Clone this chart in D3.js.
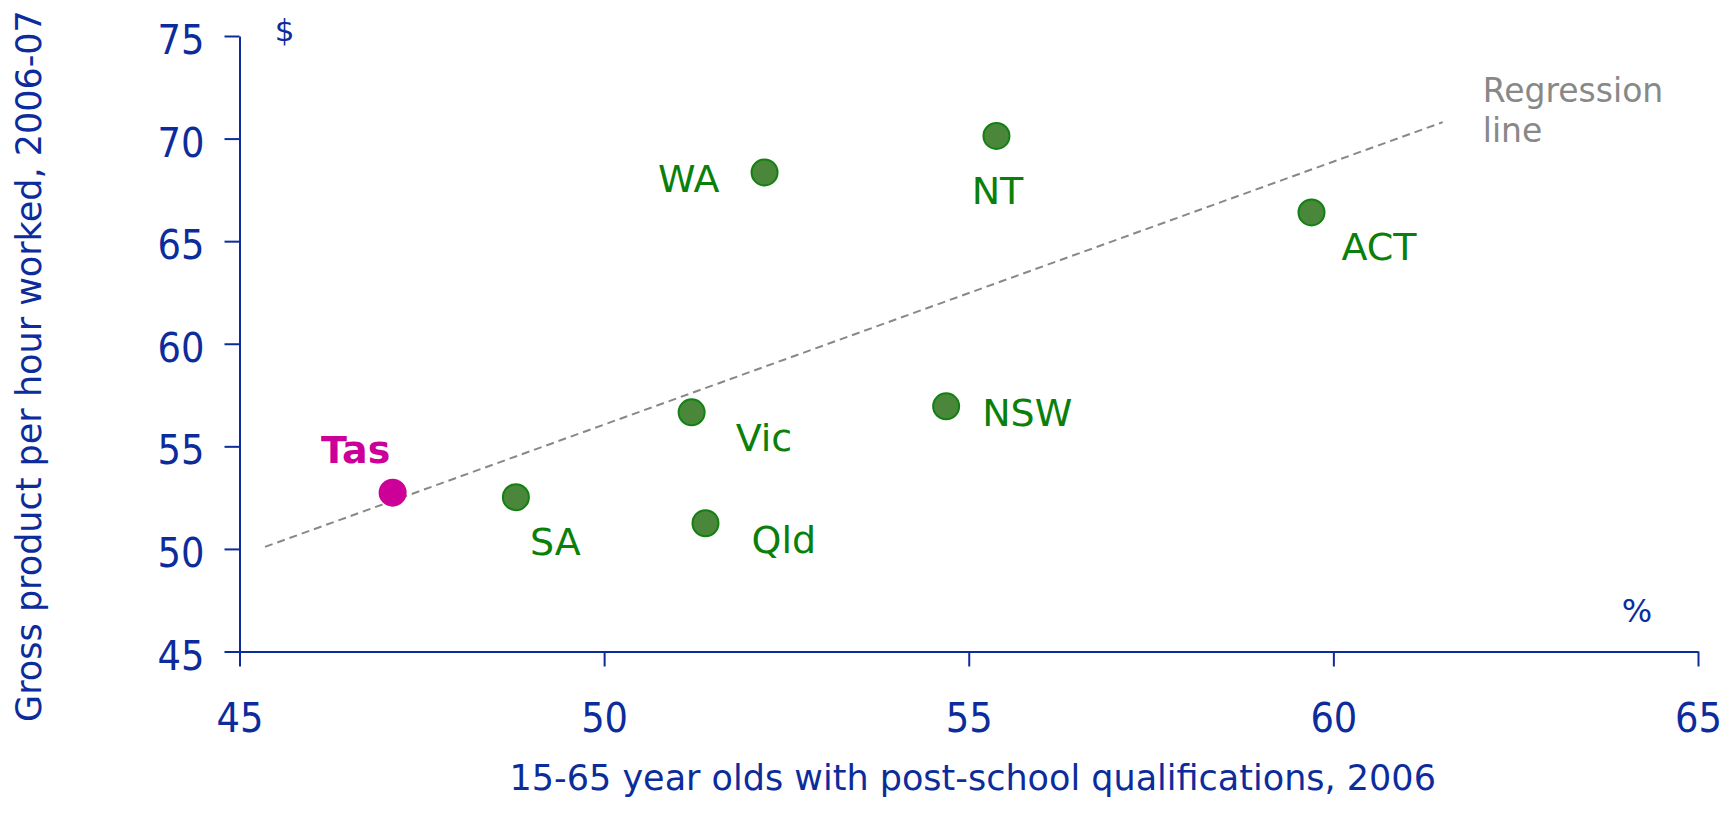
<!DOCTYPE html>
<html lang="en">
<head>
    <meta charset="UTF-8">
    <title>Labour productivity vs post-school qualifications</title>
    <script src="https://d3js.org/d3.v7.min.js"></script>
    <style>
        body { margin: 0; background: #fff; }
        svg { display: block; font-family: "DejaVu Sans", Verdana, sans-serif; }
        .axis path, .axis line { stroke: #0d2c9c; stroke-width: 2px; fill: none; }
        .axis text { fill: #0d2c9c; font-size: 41px; font-family: "DejaVu Sans Condensed", "DejaVu Sans", sans-serif; font-stretch: condensed; }
        .axis-title { fill: #0d2c9c; font-size: 35px; }
        .unit { fill: #0d2c9c; }
        .dot { fill: #4a873a; stroke: #128012; stroke-width: 2px; }
        .dot.tas { fill: #cc0099; stroke: #cc0099; }
        .lbl { fill: #0a800a; font-size: 38px; }
        .lbl.tas { fill: #cc0099; font-weight: bold; }
        .reg { stroke: #888; stroke-width: 2px; stroke-dasharray: 8,5; fill: none; }
        .reg-text { fill: #888; font-size: 33px; }
    </style>
</head>
<body>
<svg width="1728" height="824"></svg>
<script>
    // data
    var regions    = ["NSW", "Vic", "Qld", "SA", "WA", "Tas", "NT", "ACT"];
    var qualPct    = [54.69, 51.20, 51.39, 48.79, 52.20, 47.10, 55.38, 59.70];   // % with post-school quals, 2006
    var gspPerHour = [56.95, 56.66, 51.25, 52.52, 68.35, 52.74, 70.13, 66.40];   // $ per hour worked, 2006-07
    var regLineX   = [45.35, 61.50];
    var regLineY   = [50.10, 70.80];
    var xTicks = [45, 50, 55, 60, 65];
    var yTicks = [45, 50, 55, 60, 65, 70, 75];

    // label placement relative to each point (layout only)
    var labelPos = {
        NSW: {dx: 36, dy: 20, anchor: "start"},
        Vic: {dx: 44, dy: 39, anchor: "start"},
        Qld: {dx: 46, dy: 30, anchor: "start"},
        SA:  {dx: 14, dy: 58, anchor: "start"},
        WA:  {dx: -45, dy: 20, anchor: "end"},
        Tas: {dx: -37, dy: -30, anchor: "middle"},
        NT:  {dx: 1, dy: 68, anchor: "middle"},
        ACT: {dx: 30, dy: 48, anchor: "start"}
    };

    var svg = d3.select("svg");

    var x = d3.scaleLinear().domain([45, 65]).range([239.5, 1698]);
    var y = d3.scaleLinear().domain([45, 75]).range([651.5, 36]);

    // axes
    svg.append("g")
        .attr("class", "axis")
        .attr("transform", "translate(0," + y(45) + ")")
        .call(d3.axisBottom(x).tickValues(xTicks).tickSize(15).tickSizeOuter(0).tickPadding(36))
        .call(function(g) { g.selectAll("text").attr("dy", "0.71em"); });

    svg.append("g")
        .attr("class", "axis")
        .attr("transform", "translate(" + x(45) + ",0)")
        .call(d3.axisLeft(y).tickValues(yTicks).tickSize(15).tickSizeOuter(0).tickPadding(20))
        .call(function(g) { g.selectAll("text").attr("dy", "0.43em"); });

    // axis titles and units
    svg.append("text")
        .attr("class", "axis-title")
        .attr("text-anchor", "middle")
        .attr("x", (x(45) + x(65)) / 2 + 4)
        .attr("y", 790)
        .text("15-65 year olds with post-school qualifications, 2006");

    svg.append("text")
        .attr("class", "axis-title")
        .attr("text-anchor", "middle")
        .attr("transform", "translate(41,366) rotate(-90)")
        .text("Gross product per hour worked, 2006-07");

    svg.append("text")
        .attr("class", "unit")
        .attr("text-anchor", "middle")
        .attr("x", x(45) + 45)
        .attr("y", y(75) + 5)
        .style("font-size", "31px")
        .text("$");

    svg.append("text")
        .attr("class", "unit")
        .attr("text-anchor", "middle")
        .attr("x", x(65) - 61)
        .attr("y", y(45) - 30)
        .style("font-size", "32px")
        .text("%");

    // regression line
    svg.append("line")
        .attr("class", "reg")
        .attr("x1", x(regLineX[0])).attr("y1", y(regLineY[0]))
        .attr("x2", x(regLineX[1])).attr("y2", y(regLineY[1]));

    var regText = svg.append("text")
        .attr("class", "reg-text")
        .attr("x", x(regLineX[1]) + 40)
        .attr("y", y(regLineY[1]) - 20);
    regText.append("tspan").text("Regression");
    regText.append("tspan").attr("x", x(regLineX[1]) + 40).attr("dy", 40).text("line");

    // points
    var pts = regions.map(function(r, i) { return {name: r, q: qualPct[i], g: gspPerHour[i]}; });

    svg.selectAll(".dot")
        .data(pts)
        .enter().append("circle")
        .attr("class", function(d) { return d.name === "Tas" ? "dot tas" : "dot"; })
        .attr("cx", function(d) { return x(d.q); })
        .attr("cy", function(d) { return y(d.g); })
        .attr("r", 13);

    svg.selectAll(".lbl")
        .data(pts)
        .enter().append("text")
        .attr("class", function(d) { return d.name === "Tas" ? "lbl tas" : "lbl"; })
        .attr("text-anchor", function(d) { return labelPos[d.name].anchor; })
        .attr("x", function(d) { return x(d.q) + labelPos[d.name].dx; })
        .attr("y", function(d) { return y(d.g) + labelPos[d.name].dy; })
        .text(function(d) { return d.name; });
</script>
</body>
</html>
